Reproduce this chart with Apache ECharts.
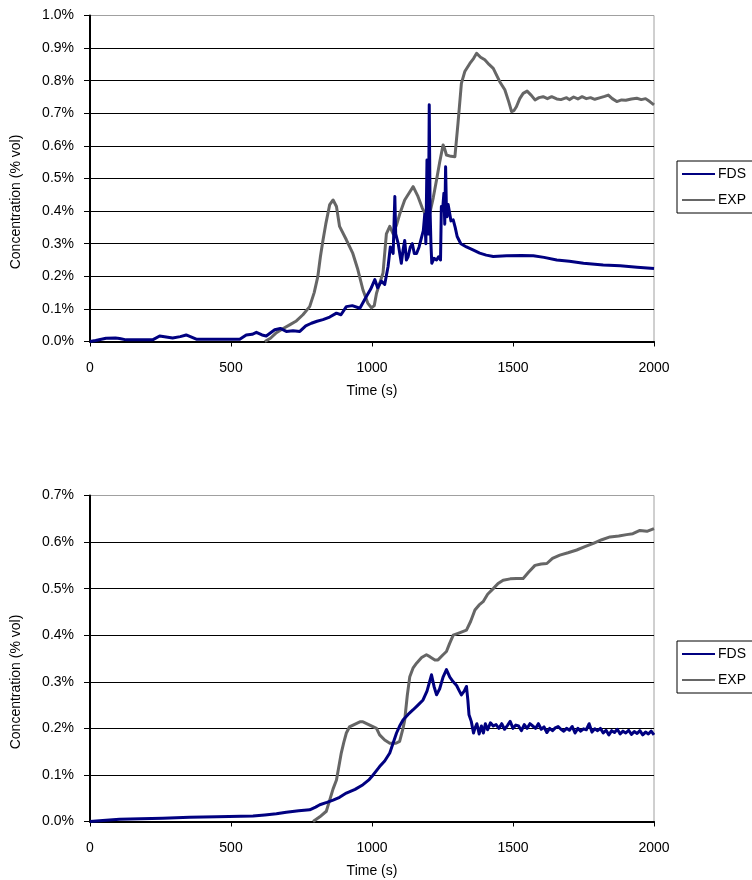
<!DOCTYPE html>
<html>
<head>
<meta charset="utf-8">
<script src="https://cdn.jsdelivr.net/npm/echarts@6/dist/echarts.min.js"></script>
<style>html,body{margin:0;padding:0;background:#fff}#c{width:752px;height:880px}</style>
</head>
<body>
<div id="c"></div>
<script>
// ---- Data (time in s, concentration in % vol) ----
const xTicks = [0, 500, 1000, 1500, 2000];

const fds1T = [0,20,57,90,105,128,222,247,270,293,320,341,377,531,554,575,590,610,625,655,675,696,720,744,765,785,805,826,850,874,890,909,930,957,980,995,1010,1020,1033,1045,1057,1065,1075,1081,1084,1093,1104,1110,1116,1122,1128,1136,1143,1150,1158,1167,1175,1182,1187,1191,1195,1198,1200,1203,1206,1209,1212,1220,1229,1236,1243,1246,1250,1255,1258,1261,1264,1266,1270,1276,1280,1288,1295,1302,1315,1335,1360,1382,1405,1430,1477,1530,1572,1610,1655,1700,1750,1820,1880,1940,2000];
const fds1V = [0,0.003,0.010,0.011,0.009,0.005,0.005,0.017,0.014,0.011,0.015,0.020,0.007,0.007,0.020,0.022,0.028,0.020,0.017,0.036,0.040,0.031,0.033,0.031,0.048,0.056,0.062,0.067,0.075,0.087,0.082,0.107,0.110,0.102,0.138,0.160,0.190,0.165,0.185,0.175,0.230,0.290,0.270,0.445,0.330,0.300,0.240,0.280,0.310,0.250,0.260,0.290,0.300,0.270,0.270,0.290,0.317,0.340,0.390,0.300,0.557,0.350,0.330,0.726,0.400,0.300,0.240,0.255,0.250,0.260,0.250,0.414,0.400,0.455,0.360,0.536,0.400,0.383,0.420,0.414,0.370,0.373,0.350,0.322,0.300,0.290,0.280,0.271,0.265,0.261,0.263,0.264,0.263,0.258,0.250,0.246,0.240,0.235,0.232,0.228,0.224];

const exp1T = [620,640,661,685,708,730,755,779,795,808,817,826,836,850,862,868,874,885,909,932,950,968,985,998,1008,1016,1028,1039,1051,1063,1075,1088,1098,1116,1135,1146,1163,1178,1193,1205,1217,1229,1240,1252,1258,1264,1280,1294,1305,1317,1329,1347,1360,1371,1385,1400,1415,1430,1453,1471,1485,1495,1503,1512,1524,1536,1550,1557,1565,1578,1592,1607,1622,1637,1655,1670,1690,1700,1715,1730,1745,1760,1775,1790,1810,1825,1838,1852,1868,1885,1900,1920,1939,1955,1970,1985,2000];
const exp1V = [0,0.010,0.027,0.040,0.051,0.062,0.082,0.107,0.150,0.200,0.260,0.310,0.360,0.420,0.434,0.430,0.414,0.353,0.312,0.270,0.220,0.158,0.118,0.103,0.110,0.148,0.180,0.210,0.330,0.353,0.330,0.360,0.390,0.434,0.460,0.475,0.445,0.410,0.383,0.394,0.440,0.496,0.550,0.603,0.590,0.572,0.568,0.567,0.670,0.792,0.828,0.853,0.868,0.884,0.872,0.864,0.850,0.838,0.797,0.772,0.735,0.705,0.708,0.720,0.745,0.761,0.768,0.770,0.755,0.741,0.748,0.751,0.745,0.751,0.744,0.742,0.748,0.742,0.750,0.744,0.751,0.745,0.748,0.743,0.748,0.752,0.756,0.745,0.736,0.741,0.740,0.744,0.746,0.742,0.745,0.736,0.726];

const fds2T = [0,45,105,180,258,353,450,578,620,661,696,740,779,800,815,840,862,885,909,940,968,990,1004,1027,1045,1063,1087,1098,1110,1128,1146,1163,1181,1195,1211,1220,1229,1240,1252,1264,1276,1288,1300,1310,1317,1327,1335,1340,1344,1352,1360,1365,1372,1380,1388,1395,1402,1410,1420,1430,1440,1450,1460,1470,1480,1490,1500,1510,1520,1530,1540,1550,1560,1570,1580,1590,1600,1610,1620,1630,1640,1650,1660,1670,1680,1690,1700,1710,1720,1730,1740,1750,1760,1770,1780,1790,1800,1810,1820,1830,1840,1850,1860,1870,1880,1890,1900,1910,1920,1930,1940,1950,1960,1970,1980,1990,2000];
const fds2V = [0,0.002,0.005,0.006,0.007,0.009,0.010,0.012,0.014,0.0165,0.020,0.023,0.025,0.031,0.036,0.041,0.046,0.052,0.061,0.069,0.079,0.090,0.100,0.118,0.130,0.147,0.190,0.205,0.218,0.230,0.240,0.250,0.261,0.280,0.315,0.290,0.272,0.285,0.310,0.326,0.310,0.300,0.292,0.280,0.272,0.280,0.290,0.260,0.229,0.215,0.190,0.200,0.210,0.188,0.205,0.190,0.210,0.197,0.212,0.205,0.208,0.200,0.210,0.198,0.206,0.215,0.200,0.207,0.205,0.195,0.208,0.200,0.210,0.205,0.200,0.210,0.198,0.203,0.191,0.200,0.195,0.201,0.204,0.198,0.194,0.200,0.196,0.204,0.190,0.200,0.194,0.199,0.197,0.210,0.192,0.199,0.195,0.200,0.190,0.196,0.186,0.195,0.191,0.198,0.188,0.194,0.190,0.196,0.187,0.193,0.189,0.195,0.186,0.192,0.188,0.194,0.186];

const exp2T = [791,815,838,850,862,874,891,900,909,920,933,957,968,992,1016,1027,1045,1063,1085,1098,1110,1116,1125,1134,1146,1158,1176,1193,1205,1223,1234,1252,1264,1275,1288,1310,1335,1350,1365,1380,1394,1410,1430,1447,1465,1490,1512,1536,1555,1578,1600,1620,1640,1666,1695,1726,1755,1785,1815,1844,1875,1903,1925,1950,1975,2000];
const exp2V = [0,0.010,0.022,0.046,0.070,0.089,0.147,0.170,0.190,0.203,0.207,0.214,0.214,0.207,0.200,0.186,0.175,0.168,0.168,0.172,0.200,0.218,0.270,0.311,0.330,0.340,0.352,0.358,0.354,0.347,0.347,0.358,0.365,0.382,0.400,0.405,0.411,0.430,0.454,0.465,0.472,0.488,0.500,0.511,0.518,0.521,0.522,0.522,0.535,0.550,0.553,0.554,0.565,0.572,0.577,0.583,0.590,0.597,0.605,0.611,0.613,0.616,0.618,0.625,0.623,0.629];

const yMax1 = 1.0, yMax2 = 0.7;
const seriesNames = ['FDS', 'EXP'];

// ---- Build ----
const zip = (t, v) => t.map((x, i) => [x, v[i]]);
const FONT = 'Liberation Sans, Arial, sans-serif';
const FDS_COLOR = '#000080', EXP_COLOR = '#666666';

function grid(top) {
  return { left: 90, top: top, width: 564, height: 326, show: true, borderColor: '#a0a0a0', borderWidth: 1,
           backgroundColor: 'transparent', containLabel: false, outerBoundsMode: 'none' };
}
function xAxis(gi) {
  return {
    type: 'value', gridIndex: gi, min: xTicks[0], max: xTicks[xTicks.length - 1], interval: xTicks[1] - xTicks[0],
    name: 'Time (s)', nameLocation: 'middle', nameGap: 43,
    nameTextStyle: { fontFamily: FONT, fontSize: 14, color: '#000' },
    axisLine: { show: true, onZero: false, lineStyle: { color: '#000', width: 2 } },
    axisTick: { show: true, length: 5, lineStyle: { color: '#000' } },
    axisLabel: { margin: 20, fontFamily: FONT, fontSize: 14, color: '#000', formatter: v => String(v) },
    splitLine: { show: false }
  };
}
function yAxis(gi, max) {
  return {
    type: 'value', gridIndex: gi, min: 0, max: max, interval: 0.1,
    axisLine: { show: true, onZero: false, lineStyle: { color: '#000', width: 2 } },
    axisTick: { show: true, length: 6, lineStyle: { color: '#000' } },
    axisLabel: { margin: 16, fontFamily: FONT, fontSize: 14, color: '#000',
                 formatter: v => v.toFixed(1) + '%' },
    splitLine: { show: true, showMinLine: false, showMaxLine: false, lineStyle: { color: '#000', width: 1 } }
  };
}
function line(name, data, gi, color) {
  return { name: name, type: 'line', xAxisIndex: gi, yAxisIndex: gi, data: data,
           symbol: 'none', showSymbol: false, animation: false, smooth: false,
           lineStyle: { color: color, width: 3, join: 'round' }, itemStyle: { color: color }, z: name === 'FDS' ? 3 : 2 };
}
function legend(top) {
  return {
    orient: 'vertical', left: 677, top: top, data: seriesNames,
    icon: 'rect', itemWidth: 33, itemHeight: 2, itemGap: 0, padding: [0, 60, 0, 5],
    borderColor: '#000', borderWidth: 1, backgroundColor: '#fff',
    textStyle: { fontFamily: FONT, fontSize: 14, color: '#000', lineHeight: 26, padding: [0, 0, 0, -2] },
    selectedMode: false
  };
}

const chart = echarts.init(document.getElementById('c'), null, { renderer: 'canvas' });
chart.setOption({
  animation: false,
  backgroundColor: '#fff',
  grid: [grid(15.5), grid(495.5)],
  xAxis: [xAxis(0), xAxis(1)],
  yAxis: [yAxis(0, yMax1), yAxis(1, yMax2)],
  legend: [legend(161), legend(641)],
  series: [
    line('EXP', zip(exp1T, exp1V), 0, EXP_COLOR),
    line('FDS', zip(fds1T, fds1V), 0, FDS_COLOR),
    line('EXP', zip(exp2T, exp2V), 1, EXP_COLOR),
    line('FDS', zip(fds2T, fds2V), 1, FDS_COLOR)
  ],
  graphic: [
    { type: 'text', x: 16.5, y: 202, rotation: Math.PI / 2,
      style: { text: 'Concentration (% vol)', font: '14px ' + FONT, fill: '#000', align: 'center', verticalAlign: 'middle' } },
    { type: 'text', x: 16.5, y: 682, rotation: Math.PI / 2,
      style: { text: 'Concentration (% vol)', font: '14px ' + FONT, fill: '#000', align: 'center', verticalAlign: 'middle' } }
  ]
});
</script>
</body>
</html>
